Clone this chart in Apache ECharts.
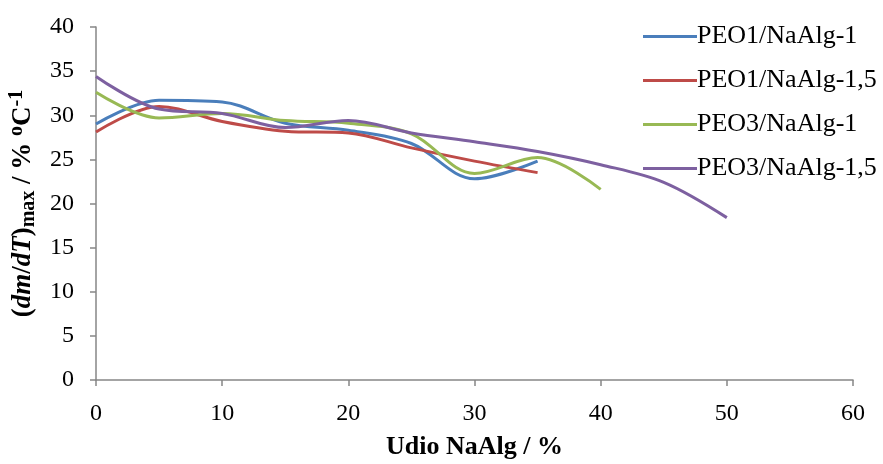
<!DOCTYPE html>
<html>
<head>
<meta charset="utf-8">
<script src="https://cdn.jsdelivr.net/npm/echarts@6/dist/echarts.min.js"></script>
<style>
  html, body { margin: 0; padding: 0; background: #fff; }
  #chart { width: 883px; height: 464px; }
</style>
</head>
<body>
<div id="chart"></div>
<script>
// udio NaAlg (%)
var xPeo1 = [0, 5, 10, 15, 20, 25, 30, 35];
var xPeo3a = [0, 5, 10, 15, 20, 25, 30, 35, 40];
var xPeo3b = [0, 5, 10, 15, 20, 25, 30, 35, 40, 45, 50];

var peo1_1 = [29.0, 31.7, 31.5, 29.1, 28.3, 26.8, 22.8, 24.8];
var peo1_15 = [28.1, 31.0, 29.3, 28.2, 28.0, 26.3, 24.8, 23.5];
var peo3_1 = [32.6, 29.7, 30.2, 29.4, 29.1, 27.9, 23.4, 25.2, 21.6];
var peo3_15 = [34.4, 30.7, 30.2, 28.6, 29.4, 28.0, 27.0, 25.9, 24.4, 22.4, 18.4];

var names = ['PEO1/NaAlg-1', 'PEO1/NaAlg-1,5', 'PEO3/NaAlg-1', 'PEO3/NaAlg-1,5'];
var colors = ['#4a7ebb', '#be4b48', '#98b954', '#7d60a0'];

function pairs(xs, ys) {
    return xs.map(function (x, i) { return [x, ys[i]]; });
}

var allData = [
    pairs(xPeo1, peo1_1),
    pairs(xPeo1, peo1_15),
    pairs(xPeo3a, peo3_1),
    pairs(xPeo3b, peo3_15)
];

var font = '"Liberation Serif", "Times New Roman", serif';

var mcharts = echarts.init(document.getElementById('chart'));
var option = {
    animation: false,
    color: colors,
    grid: { left: 96, right: 30, top: 27, bottom: 84, outerBoundsMode: 'none', containLabel: false },
    legend: {
        orient: 'vertical',
        left: 638,
        top: 18,
        icon: 'rect',
        itemWidth: 54,
        itemHeight: 3,
        itemGap: 17,
        textStyle: { fontFamily: font, fontSize: 26, lineHeight: 27, color: '#000', padding: [0, 0, 0, -5] },
        data: names
    },
    xAxis: {
        type: 'value',
        min: 0, max: 60, interval: 10,
        name: 'Udio NaAlg / %',
        nameLocation: 'middle',
        nameGap: 54,
        nameTextStyle: { fontFamily: font, fontSize: 26, fontWeight: 'bold', color: '#000' },
        axisLine: { lineStyle: { color: '#868686', width: 1.5 } },
        axisTick: { show: true, length: 6, lineStyle: { color: '#868686', width: 1.5 } },
        axisLabel: { fontFamily: font, fontSize: 24, color: '#000', margin: 22 },
        splitLine: { show: false }
    },
    yAxis: {
        type: 'value',
        min: 0, max: 40, interval: 5,
        name: '{p|(}{i|dm}{p|/}{i|dT}{p|)}{sub|max}{p| / % }{sup|o}{p|C}{sup|-1}',
        nameLocation: 'middle',
        nameGap: 53,
        nameRotate: 90,
        nameTextStyle: {
            fontFamily: font, fontSize: 27, fontWeight: 'bold', color: '#000',
            rich: {
                p: { fontFamily: font, fontSize: 27, fontWeight: 'bold', color: '#000', lineHeight: 34 },
                i: { fontFamily: font, fontSize: 27, fontWeight: 'bold', fontStyle: 'italic', color: '#000', lineHeight: 34 },
                sub: { fontFamily: font, fontSize: 20, fontWeight: 'bold', color: '#000', lineHeight: 34, padding: [12, 0, 0, 0] },
                sup: { fontFamily: font, fontSize: 20, fontWeight: 'bold', color: '#000', lineHeight: 34, padding: [0, 0, 12, 0] }
            }
        },
        axisLine: { show: true, lineStyle: { color: '#868686', width: 1.5 } },
        axisTick: { show: true, length: 6, lineStyle: { color: '#868686', width: 1.5 } },
        axisLabel: { fontFamily: font, fontSize: 24, color: '#000', margin: 22 },
        splitLine: { show: false }
    },
    series: names.map(function (n, k) {
        return {
            name: n,
            type: 'line',
            smooth: 0.35,
            showSymbol: false,
            lineStyle: { width: 3, color: colors[k] },
            data: allData[k]
        };
    })
};
mcharts.setOption(option);
</script>
</body>
</html>
